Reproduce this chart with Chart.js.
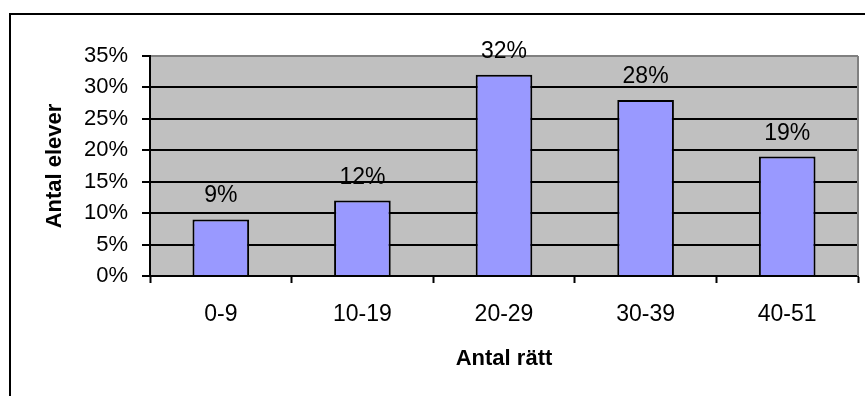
<!DOCTYPE html>
<html>
<head>
<meta charset="utf-8">
<script src="https://cdn.jsdelivr.net/npm/chart.js@4/dist/chart.umd.min.js"></script>
<style>
    html, body { margin: 0; padding: 0; background: #fff; }
    canvas { display: block; }
</style>
</head>
<body>
<canvas id="rattChart" width="865" height="396"></canvas>
<script>
// data
const categories = ['0-9', '10-19', '20-29', '30-39', '40-51'];
const andelElever = [9, 12, 32, 28, 19];
const yTicks = [0, 5, 10, 15, 20, 25, 30, 35];

const FONT = "'Liberation Sans', Arial, sans-serif";

// grå bakgrund + ram runt hela diagrammet
const bakgrundPlugin = {
    id: 'bakgrund',
    beforeDraw(chart) {
        const ctx = chart.ctx;
        const a = chart.chartArea;
        ctx.save();
        ctx.fillStyle = '#C0C0C0';
        ctx.fillRect(a.left, a.top, a.right - a.left, a.bottom - a.top);
        ctx.strokeStyle = '#000';
        ctx.lineWidth = 2;
        ctx.strokeRect(10, 14, 1000, 1000);
        ctx.restore();
    },
    beforeDatasetsDraw(chart) {
        const ctx = chart.ctx;
        const a = chart.chartArea;
        ctx.save();
        ctx.strokeStyle = '#808080';
        ctx.lineWidth = 2;
        ctx.beginPath();
        ctx.moveTo(a.right, a.top);
        ctx.lineTo(a.right, a.bottom);
        ctx.stroke();
        ctx.restore();
    }
};

// procentetiketter ovanför staplarna
const etikettPlugin = {
    id: 'etiketter',
    afterDatasetsDraw(chart) {
        const ctx = chart.ctx;
        const meta = chart.getDatasetMeta(0);
        ctx.save();
        ctx.font = '23px ' + FONT;
        ctx.fillStyle = '#000';
        ctx.textAlign = 'center';
        ctx.textBaseline = 'alphabetic';
        meta.data.forEach(function (bar, i) {
            ctx.fillText(andelElever[i] + '%', bar.x, bar.y - 17);
        });
        ctx.restore();
    }
};

new Chart(document.getElementById('rattChart'), {
    type: 'bar',
    data: {
        labels: categories,
        datasets: [{
            data: andelElever,
            backgroundColor: '#9999FF',
            borderColor: '#000',
            borderWidth: 2,
            categoryPercentage: 1,
            barPercentage: 0.4
        }]
    },
    options: {
        responsive: false,
        animation: false,
        layout: { padding: { left: 0, top: 56, right: 7, bottom: 0 } },
        plugins: {
            legend: { display: false },
            tooltip: { enabled: false }
        },
        scales: {
            x: {
                afterFit: function (scale) { scale.height = 120; },
                grid: {
                    drawOnChartArea: false,
                    drawTicks: true,
                    tickLength: 7,
                    tickColor: '#000',
                    tickWidth: 2
                },
                border: { display: true, color: '#000', width: 2 },
                ticks: {
                    color: '#000',
                    padding: 18,
                    maxRotation: 0,
                    font: { family: FONT, size: 23 }
                },
                title: {
                    display: true,
                    text: 'Antal rätt',
                    color: '#000',
                    padding: { top: 0, bottom: 24 },
                    font: { family: FONT, size: 22, weight: 'bold' }
                }
            },
            y: {
                min: 0,
                max: 35,
                afterFit: function (scale) { scale.width = 150; },
                afterBuildTicks: function (scale) {
                    scale.ticks = yTicks.map(function (v) { return { value: v }; });
                },
                grid: {
                    color: function (c) { return c.tick && c.tick.value === 35 ? '#808080' : '#000'; },
                    lineWidth: 2,
                    tickLength: 8,
                    tickColor: '#000'
                },
                border: { display: true, color: '#000', width: 2 },
                ticks: {
                    color: '#000',
                    padding: 14,
                    font: { family: FONT, size: 22 },
                    callback: function (v) { return v + '%'; }
                },
                title: {
                    display: true,
                    text: 'Antal elever',
                    color: '#000',
                    padding: { top: 42, bottom: 0 },
                    font: { family: FONT, size: 22, weight: 'bold' }
                }
            }
        }
    },
    plugins: [bakgrundPlugin, etikettPlugin]
});
</script>
</body>
</html>
